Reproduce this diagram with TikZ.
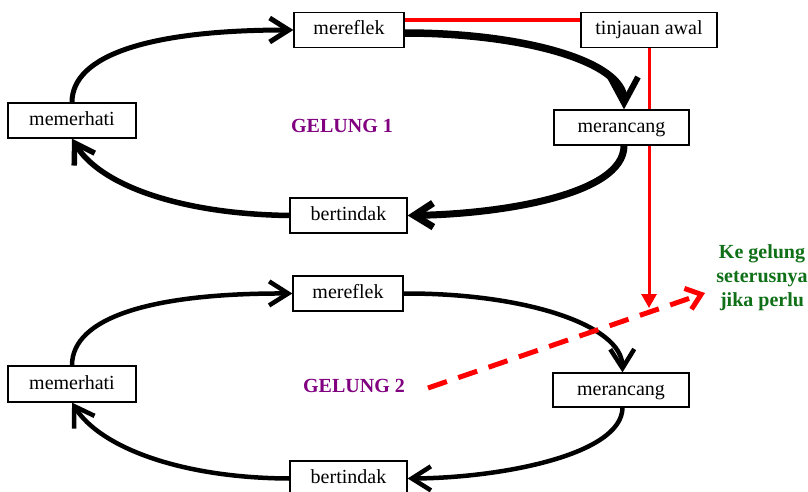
\documentclass[tikz,border=0pt]{standalone}
\usepackage{fontspec}
\setmainfont{Liberation Serif}
\usetikzlibrary{arrows.meta,calc}
\definecolor{loopviolet}{RGB}{128,0,128}
\definecolor{nextgreen}{RGB}{16,112,24}
\definecolor{linkred}{RGB}{255,0,0}
\begin{document}
\begin{tikzpicture}[x=1pt,y=-1pt,
  stagebox/.style={draw=black,line width=1.3pt,fill=white,inner sep=0pt,
    text height=14pt,text depth=4pt,font=\fontsize{20}{24}\selectfont},
  looptitle/.style={font=\fontsize{20}{24}\selectfont\bfseries,text=loopviolet},
  cyc/.style={line width=#1,line cap=butt,
    -{Straight Barb[length=19pt,width=24pt,line width=#1]}},
  heavycyc/.style={line width=7.5pt,line cap=butt,
    -{Straight Barb[length=26pt,width=28pt,line width=6pt]}},
  redlink/.style={draw=linkred,line width=3pt},
  redhint/.style={draw=linkred,line width=5pt,dash pattern=on 20pt off 12pt,
    -{Straight Barb[length=14pt,width=22pt,line width=5pt]}}
]
\useasboundingbox (0,0) rectangle (808,492);

% red link from the initial review down to the next loop
\coordinate (redtip) at (650,308);
\node[stagebox,minimum width=136pt,minimum height=35pt] (tinj) at (649,30) {tinjauan awal};
\draw[redlink,-{Triangle[length=14pt,width=15pt]}] (tinj.south) -- (tinj.south |- redtip);

% loop 1
\node[stagebox,minimum width=110pt,minimum height=35pt] (mref1) at (349,30) {mereflek};
\node[stagebox,minimum width=135pt,minimum height=35pt] (mera1) at (621.5,127.5) {merancang};
\node[stagebox,minimum width=128pt,minimum height=35pt] (mem1) at (72,120.5) {memerhati};
\node[stagebox,minimum width=117pt,minimum height=35pt] (bert1) at (348.5,215.5) {bertindak};
\node[looptitle] (g1) at (342,126) {GELUNG 1};

\draw[redlink,line width=4pt] ($(mref1.east)+(0,-10)$) -- ($(tinj.west)+(0,-10)$);

\draw[cyc=5pt] (mem1.north) .. controls (72,55) and (150,30) .. (mref1.west);
\draw[heavycyc] ($(mref1.east)+(0,3)$) .. controls (525,33) and (624,62) .. ($(mera1.north)+(2.5,0)$);
\draw[cyc=7pt] ($(mera1.south)+(2.5,0)$) .. controls (624,195) and (500,214) .. (bert1.east);
\draw[cyc=5.5pt] (bert1.west) .. controls (180,214) and (100,185) .. (mem1.south);

% loop 2
\node[stagebox,minimum width=110pt,minimum height=35pt] (mref2) at (348,293.5) {mereflek};
\node[stagebox,minimum width=136pt,minimum height=34pt] (mera2) at (621,390) {merancang};
\node[stagebox,minimum width=128pt,minimum height=36pt] (mem2) at (72,384) {memerhati};
\node[stagebox,minimum width=117pt,minimum height=35pt] (bert2) at (348.5,478.5) {bertindak};
\node[looptitle] (g2) at (354,386) {GELUNG 2};

\draw[cyc=4.5pt] (mem2.north) .. controls (72,318) and (150,293) .. (mref2.west);
\draw[cyc=4.5pt] (mref2.east) .. controls (525,293) and (622,325) .. ($(mera2.north)+(1.5,0)$);
\draw[cyc=4.5pt] ($(mera2.south)+(1.5,0)$) .. controls (622,455) and (500,478) .. (bert2.east);
\draw[cyc=4.5pt] (bert2.west) .. controls (180,478) and (100,447) .. (mem2.south);

% pointer to the following loops
\node[font=\fontsize{20}{24}\selectfont\bfseries,text=nextgreen,align=center] (next) at (762,277.5)
  {Ke gelung\\seterusnya\\jika perlu};
\coordinate (dstart) at (428,388);
\coordinate (dend) at (705,293);
\draw[redhint] (dstart) -- (dend);
\end{tikzpicture}
\end{document}
